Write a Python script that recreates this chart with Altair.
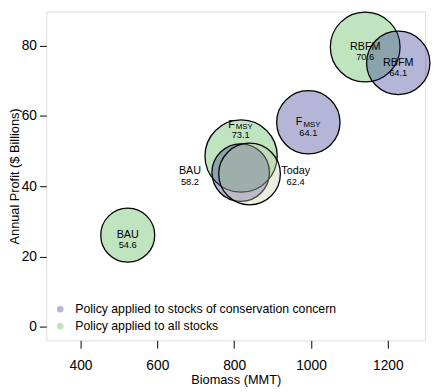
import altair as alt
import pandas as pd

# ---- data ----
groups = [
    "Policy applied to all stocks", "Policy applied to all stocks", "Policy applied to all stocks",
    "Policy applied to stocks of conservation concern", "Policy applied to stocks of conservation concern",
    "Policy applied to stocks of conservation concern", "Today",
]
names = ["BAU", "FMSY", "RBFM", "BAU", "FMSY", "RBFM", "Today"]
biomass = [523, 818, 1141, 817, 993, 1227, 840]
profit = [26.1, 48.6, 79.6, 43.9, 58.2, 75.1, 43.5]
values = [54.6, 73.1, 70.6, 58.2, 64.1, 64.1, 62.4]
label_x = [523, 817, 1141, 685, 993, 1227, 960]
label_y = [26.1, 57.5, 79.6, 44.2, 58.2, 75.1, 44.2]

x_ticks = [400, 600, 800, 1000, 1200]
y_ticks = [0, 20, 40, 60, 80]

df = pd.DataFrame({
    "group": groups, "name": names, "biomass": biomass, "profit": profit,
    "value": values, "lx": label_x, "ly": label_y, "order": list(range(len(names))),
})
df["main"] = df["name"].where(df["name"] != "FMSY", "F")
df["sub"] = df["name"].map(lambda n: "MSY" if n == "FMSY" else "")
df["vtxt"] = df["value"].map(lambda v: f"{v:.1f}")

FONT = "Liberation Sans"
xs = alt.Scale(domain=[311, 1297], nice=False, zero=False)
ys = alt.Scale(domain=[-3.8, 89.7], nice=False, zero=False)

color_scale = alt.Scale(
    domain=["Policy applied to stocks of conservation concern", "Policy applied to all stocks", "Today"],
    range=["#1e1e87", "#3cae3c", "#c8c8aa"],
)

base = alt.Chart(df)

bubbles = base.mark_point(
    shape="circle", filled=True, opacity=1, fillOpacity=0.33, stroke="black",
    strokeWidth=1.3, strokeOpacity=1
).encode(
    x=alt.X("biomass:Q", scale=xs,
            axis=alt.Axis(values=x_ticks, format="d", title="Biomass (MMT)", grid=False, domain=False,
                          tickSize=8, tickColor="black", labelFontSize=14, labelColor="black",
                          labelPadding=11, titleFontSize=13, titleFontWeight="normal",
                          titleColor="black", titlePadding=1, labelFont=FONT, titleFont=FONT)),
    y=alt.Y("profit:Q", scale=ys,
            axis=alt.Axis(values=y_ticks, title="Annual Profit ($ Billions)", grid=False, domain=False,
                          tickSize=7, tickColor="black", labelFontSize=14, labelColor="black",
                          labelPadding=3, titleFontSize=13, titleFontWeight="normal",
                          titleColor="black", titleX=-32, titleBaseline="middle",
                          labelFont=FONT, titleFont=FONT)),
    fill=alt.Fill("group:N", scale=color_scale,
                  legend=alt.Legend(
                      values=["Policy applied to stocks of conservation concern", "Policy applied to all stocks"],
                      title=None, orient="none", legendX=8, legendY=297, padding=0,
                      symbolType="circle", symbolSize=45, symbolOpacity=0.33,
                      symbolStrokeWidth=0, labelFontSize=12.5, labelFont=FONT,
                      labelColor="black", labelOffset=9, rowPadding=4.5, labelLimit=400)),
    size=alt.Size("value:Q", scale=alt.Scale(type="pow", exponent=2, domain=[0, 100], range=[0, 10135]),
                  legend=None),
    order=alt.Order("order:Q"),
)

txt_common = dict(font=FONT, color="black", baseline="middle")

names_plain = base.transform_filter("datum.sub == ''").mark_text(
    fontSize=11, align="center", **txt_common
).encode(x=alt.X("lx:Q", scale=xs), y=alt.Y("ly:Q", scale=ys), text="main:N")

names_f = base.transform_filter("datum.sub != ''").mark_text(
    fontSize=11, align="right", dx=-6, **txt_common
).encode(x=alt.X("lx:Q", scale=xs), y=alt.Y("ly:Q", scale=ys), text="main:N")

names_sub = base.transform_filter("datum.sub != ''").mark_text(
    fontSize=8, align="left", dx=-5, dy=2.5, **txt_common
).encode(x=alt.X("lx:Q", scale=xs), y=alt.Y("ly:Q", scale=ys), text="sub:N")

vals = base.mark_text(fontSize=9.5, align="center", dy=10.5, **txt_common).encode(
    x=alt.X("lx:Q", scale=xs), y=alt.Y("ly:Q", scale=ys), text="vtxt:N"
)

chart = alt.layer(bubbles, names_plain, names_f, names_sub, vals).properties(
    width=386, height=335,
    autosize=alt.AutoSizeParams(type="none"),
    padding={"left": 39, "top": 0, "right": 7, "bottom": 48},
).configure_view(stroke="black", strokeWidth=1).configure(background="white")

chart.save("out.html", embed_options={"renderer": "svg", "actions": False})
